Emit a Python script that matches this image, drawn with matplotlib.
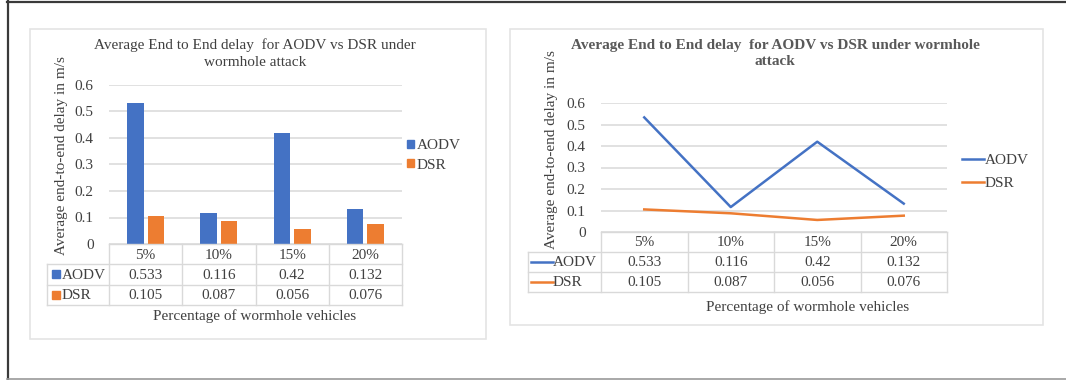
import matplotlib
matplotlib.use("Agg")
import matplotlib.pyplot as plt
from matplotlib.lines import Line2D
from matplotlib.patches import Rectangle, Patch

# ---- data -------------------------------------------------------------
categories = ["5%", "10%", "15%", "20%"]
series_names = ["AODV", "DSR"]
aodv_delay = [0.533, 0.116, 0.42, 0.132]
dsr_delay = [0.105, 0.087, 0.056, 0.076]
cell_text = [["0.533", "0.116", "0.42", "0.132"],
             ["0.105", "0.087", "0.056", "0.076"]]
y_ticks = [0, 0.1, 0.2, 0.3, 0.4, 0.5, 0.6]
y_tick_labels = ["0", "0.1", "0.2", "0.3", "0.4", "0.5", "0.6"]

title_bar = "Average End to End delay  for AODV vs DSR under\nwormhole attack"
title_line = "Average End to End delay  for AODV vs DSR under wormhole\nattack"
y_label = "Average end-to-end delay in m/s"
x_label = "Percentage of wormhole vehicles"

# ---- style ------------------------------------------------------------
BLUE = "#4472C4"
ORANGE = "#ED7D31"
GRID = "#D9D9D9"
TEXT = "#404040"
FS = 11
plt.rcParams["font.family"] = ["Liberation Serif", "DejaVu Serif"]
plt.rcParams["font.size"] = FS

W, H = 1066, 380
fig = plt.figure(figsize=(W / 100, H / 100), dpi=100)
fig.patch.set_facecolor("white")


def fx(x):
    return x / W


def fy(y):
    return 1 - y / H


def px_axes(x0, y_top, x1, y_bot, **kw):
    return fig.add_axes([fx(x0), fy(y_bot), (x1 - x0) / W, (y_bot - y_top) / H], **kw)


def panel_box(x0, y0, x1, y1):
    fig.patches.append(Rectangle((fx(x0), fy(y1)), (x1 - x0) / W, (y1 - y0) / H,
                                 transform=fig.transFigure, facecolor="none",
                                 edgecolor="#E4E4E4", linewidth=1.2, zorder=-1))


def value_axes(x0, y_top, x1, y_bot):
    ax = px_axes(x0, y_top, x1, y_bot)
    ax.set_xlim(-0.5, len(categories) - 0.5)
    ax.set_ylim(0, 0.6)
    ax.set_yticks(y_ticks)
    ax.set_yticklabels(y_tick_labels, color=TEXT, fontsize=FS)
    ax.set_xticks([])
    for s in ax.spines.values():
        s.set_visible(False)
    ax.tick_params(axis="y", length=0, pad=11)
    ax.grid(axis="y", color=GRID, linewidth=1.1)
    ax.set_axisbelow(True)
    ax.patch.set_alpha(0)
    return ax


def data_table(x_tab, x0, x1, y_top, row_h, key_kind):
    n = len(categories)
    col_w = (x1 - x0) / n
    lab_w = (x0 - x_tab) / col_w
    tab = px_axes(x_tab, y_top, x1, y_top + 3 * row_h)
    tab.set_xlim(-0.5 - lab_w, n - 0.5)
    tab.set_ylim(3, 0)
    tab.axis("off")
    lw, lc = 1.0, GRID
    left = -0.5 - lab_w
    # horizontal rules
    tab.plot([-0.5, n - 0.5], [0, 0], color=lc, lw=lw, clip_on=False)
    for r in (1, 2, 3):
        tab.plot([left, n - 0.5], [r, r], color=lc, lw=lw, clip_on=False)
    # vertical rules
    tab.plot([left, left], [1, 3], color=lc, lw=lw, clip_on=False)
    for c in range(n + 1):
        tab.plot([c - 0.5, c - 0.5], [0, 3], color=lc, lw=lw, clip_on=False)
    for i, cat in enumerate(categories):
        tab.text(i, 0.55, cat, ha="center", va="center", color=TEXT, fontsize=FS)
    colors = [BLUE, ORANGE]
    for r, (name, row) in enumerate(zip(series_names, cell_text)):
        yc = r + 1.55
        for i, val in enumerate(row):
            tab.text(i, yc, val, ha="center", va="center", color=TEXT, fontsize=FS)
        if key_kind == "square":
            tab.plot([left + 8.5 / col_w], [yc - 0.05], marker="s", ms=5.2,
                     color=colors[r], clip_on=False)
            tab.text(left + 15 / col_w, yc, name, ha="left", va="center",
                     color=TEXT, fontsize=FS)
        else:
            tab.plot([left + 3 / col_w, left + 25 / col_w], [yc - 0.05, yc - 0.05],
                     color=colors[r], lw=1.8, clip_on=False)
            tab.text(left + 25 / col_w, yc, name, ha="left", va="center",
                     color=TEXT, fontsize=FS)
    return tab


# ---- outer frame --------------------------------------------------------
fig.add_artist(Line2D([fx(7), 1], [fy(1.5), fy(1.5)], color="#3A3A3A", lw=1.6))
fig.add_artist(Line2D([fx(7.5), fx(7.5)], [fy(1), fy(379)], color="#3A3A3A", lw=1.6))
fig.add_artist(Line2D([fx(7), 1], [fy(379), fy(379)], color="#9A9A9A", lw=1.2))

# ---- left panel: clustered bars -----------------------------------------
panel_box(30, 29, 486, 339)
axL = value_axes(109, 85, 402, 244)
xs = list(range(len(categories)))
bw, off = 0.223, 0.14
barsA = axL.bar([x - off for x in xs], aodv_delay, width=bw, color=BLUE, zorder=3)
barsD = axL.bar([x + off for x in xs], dsr_delay, width=bw, color=ORANGE, zorder=3)
data_table(47, 109, 402, 244, 20.3, "square")
fig.text(fx(255), fy(53.5), title_bar, ha="center", va="center", color=TEXT,
         fontsize=FS, linespacing=1.35)
fig.text(fx(62), fy(156), y_label, rotation=90, ha="center", va="center",
         color=TEXT, fontsize=FS)
fig.text(fx(255), fy(316), x_label, ha="center", va="center", color=TEXT, fontsize=FS)
fig.legend([Patch(color=BLUE), Patch(color=ORANGE)], series_names,
           loc="center left", bbox_to_anchor=(fx(407), fy(155.5)),
           frameon=False, borderpad=0, borderaxespad=0, handlelength=0.45,
           handleheight=0.45, handletextpad=0.2, labelspacing=0.4,
           fontsize=FS, labelcolor=TEXT)

# ---- right panel: lines -------------------------------------------------
panel_box(510, 29, 1043, 325)
axR = value_axes(601, 103, 947, 232)
lineA, = axR.plot(xs, aodv_delay, color=BLUE, lw=1.8, zorder=3, clip_on=False)
lineD, = axR.plot(xs, dsr_delay, color=ORANGE, lw=1.8, zorder=3, clip_on=False)
data_table(528, 601, 947, 232, 20, "line")
fig.text(fx(775), fy(53.5), title_line, ha="center", va="center", color="#595959",
         fontsize=FS, fontweight="bold", linespacing=1.35)
fig.text(fx(552), fy(150), y_label, rotation=90, ha="center", va="center",
         color=TEXT, fontsize=FS)
fig.text(fx(808), fy(307), x_label, ha="center", va="center", color=TEXT, fontsize=FS)
fig.legend([Line2D([], [], color=BLUE, lw=1.8), Line2D([], [], color=ORANGE, lw=1.8)],
           series_names, loc="center left", bbox_to_anchor=(fx(962), fy(172)),
           frameon=False, borderpad=0, borderaxespad=0, handlelength=1.45,
           handletextpad=0.05, labelspacing=0.6, fontsize=FS, labelcolor=TEXT)

fig.savefig("out.png", dpi=100, facecolor="white")
